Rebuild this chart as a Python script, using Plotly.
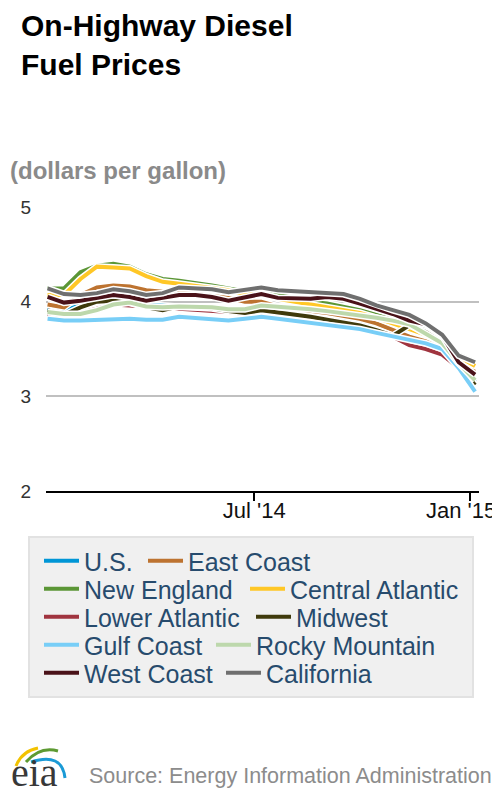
import plotly.graph_objects as go

# ------------------------------------------------------------------
# Data: weekly retail on-highway diesel, read off the chart (sampled every 2 weeks)
# ------------------------------------------------------------------
dates = [
    "2014-01-06", "2014-01-20", "2014-02-03", "2014-02-17", "2014-03-03",
    "2014-03-17", "2014-03-31", "2014-04-14", "2014-04-28", "2014-05-12",
    "2014-05-26", "2014-06-09", "2014-06-23", "2014-07-07", "2014-07-21",
    "2014-08-04", "2014-08-18", "2014-09-01", "2014-09-15", "2014-09-29",
    "2014-10-13", "2014-10-27", "2014-11-10", "2014-11-24", "2014-12-08",
    "2014-12-22", "2015-01-05",
]

us = [3.93, 3.91, 3.96, 4.00, 4.01, 4.00, 3.97, 3.96, 3.94, 3.93, 3.92, 3.90, 3.87, 3.91,
      3.88, 3.86, 3.84, 3.82, 3.80, 3.78, 3.76, 3.73, 3.70, 3.66, 3.60, 3.40, 3.15]
east_coast = [3.97, 3.94, 4.07, 4.15, 4.17, 4.16, 4.12, 4.10, 4.09, 4.08, 4.06, 4.04, 4.00, 4.00,
              3.95, 3.92, 3.90, 3.88, 3.85, 3.82, 3.77, 3.70, 3.63, 3.58, 3.50, 3.35, 3.26]
new_england = [4.14, 4.14, 4.31, 4.38, 4.40, 4.37, 4.29, 4.24, 4.22, 4.20, 4.17, 4.14, 4.11, 4.12,
               4.07, 4.04, 4.00, 3.98, 3.95, 3.91, 3.86, 3.81, 3.76, 3.70, 3.60, 3.44, 3.37]
central_atlantic = [4.07, 4.07, 4.24, 4.37, 4.36, 4.35, 4.27, 4.21, 4.19, 4.17, 4.15, 4.12, 4.08, 4.09,
                    4.03, 4.00, 3.97, 3.95, 3.92, 3.88, 3.83, 3.77, 3.71, 3.65, 3.59, 3.42, 3.32]
lower_atlantic = [3.87, 3.84, 3.88, 3.93, 3.97, 3.96, 3.95, 3.93, 3.93, 3.92, 3.91, 3.89, 3.87, 3.90,
                  3.88, 3.86, 3.83, 3.80, 3.77, 3.73, 3.68, 3.63, 3.54, 3.50, 3.44, 3.30, 3.13]
midwest = [3.91, 3.86, 3.94, 4.00, 4.01, 3.99, 3.94, 3.91, 3.95, 3.94, 3.93, 3.90, 3.88, 3.91,
           3.89, 3.87, 3.84, 3.81, 3.78, 3.75, 3.70, 3.64, 3.75, 3.68, 3.57, 3.32, 3.12]
gulf_coast = [3.82, 3.80, 3.80, 3.81, 3.82, 3.82, 3.81, 3.81, 3.84, 3.83, 3.82, 3.80, 3.82, 3.84,
              3.82, 3.80, 3.78, 3.76, 3.74, 3.71, 3.67, 3.63, 3.59, 3.56, 3.50, 3.30, 3.05]
rocky_mountain = [3.89, 3.87, 3.87, 3.91, 3.97, 3.99, 3.95, 3.94, 3.95, 3.95, 3.94, 3.92, 3.92, 3.96,
                  3.95, 3.94, 3.92, 3.90, 3.88, 3.86, 3.83, 3.80, 3.76, 3.66, 3.56, 3.35, 3.17]
west_coast = [4.05, 3.99, 4.01, 4.04, 4.07, 4.05, 4.01, 4.04, 4.07, 4.07, 4.05, 4.01, 4.05, 4.08,
              4.04, 4.03, 4.03, 4.05, 4.03, 3.98, 3.93, 3.87, 3.80, 3.76, 3.64, 3.36, 3.23]
california = [4.14, 4.08, 4.07, 4.09, 4.13, 4.11, 4.07, 4.09, 4.15, 4.14, 4.13, 4.10, 4.12, 4.15,
              4.12, 4.11, 4.10, 4.10, 4.08, 4.03, 3.96, 3.91, 3.86, 3.77, 3.65, 3.43, 3.36]

y_ticks = [2, 3, 4, 5]
x_tickvals = ["2014-07-01", "2015-01-01"]
x_ticktext = ["Jul '14", "Jan '15"]

# (name, values, colour, legend row)
series = [
    ("U.S.", us, "#0096d6", "legend"),
    ("East Coast", east_coast, "#bd7330", "legend"),
    ("New England", new_england, "#5b9636", "legend2"),
    ("Central Atlantic", central_atlantic, "#ffc726", "legend2"),
    ("Lower Atlantic", lower_atlantic, "#a0343f", "legend3"),
    ("Midwest", midwest, "#3f3a0c", "legend3"),
    ("Gulf Coast", gulf_coast, "#78cef7", "legend4"),
    ("Rocky Mountain", rocky_mountain, "#bdd8ac", "legend4"),
    ("West Coast", west_coast, "#4a1219", "legend5"),
    ("California", california, "#6f6f6f", "legend5"),
]

# ------------------------------------------------------------------
# Page geometry. The page body has an 8px margin, so the figure is
# laid out in page pixels and shifted back by that offset.
# ------------------------------------------------------------------
OFF = 8
W, H = 500, 800
L, T = 46 - OFF, 207 - OFF                  # plot area top-left on the page: (46, 207)
R, B = W - (479 - OFF), H - (491 - OFF)     # plot area bottom-right: (479, 491)
PW, PH = W - L - R, H - T - B
FONT = "Liberation Sans, Arial, sans-serif"


def px(x, y):
    """page pixel position -> paper coords"""
    return (x - OFF - L) / PW, (H - B - (y - OFF)) / PH


# legend layout: rows, left edge, and where the 2nd entry of each row starts
LEG_LEFT = 39
SWATCH = 35
TEXT_GAP = SWATCH + 10
row_y = [561, 589, 617, 645, 673]
col2_swatch = [148, 250, 256, 216, 226]
first_width = {leg: (c - 5) - LEG_LEFT - 5 - TEXT_GAP
               for leg, c in zip(["legend", "legend2", "legend3", "legend4", "legend5"], col2_swatch)}

fig = go.Figure()

seen = set()
for name, vals, color, leg in series:
    # white halo under every line, like the original
    fig.add_trace(go.Scatter(x=dates, y=vals, mode="lines", showlegend=False,
                             hoverinfo="skip", line=dict(color="white", width=7)))
    extra = {}
    if leg not in seen:
        extra["legendwidth"] = first_width[leg]
        seen.add(leg)
    fig.add_trace(go.Scatter(x=dates, y=vals, mode="lines", name=name, legend=leg,
                             line=dict(color=color, width=4), **extra))

legends = {}
for i, yy in enumerate(row_y):
    key = "legend" if i == 0 else f"legend{i + 1}"
    lx, ly = px(LEG_LEFT, yy)
    legends[key] = dict(orientation="h", x=lx, y=ly, xanchor="left", yanchor="middle",
                        bgcolor="rgba(0,0,0,0)", borderwidth=0, itemwidth=SWATCH,
                        font=dict(family=FONT, size=25, color="#274b6d"),
                        itemclick=False, itemdoubleclick=False)

bx0, by0 = px(29, 697)
bx1, by1 = px(473, 537)
shapes = [dict(type="rect", xref="paper", yref="paper", x0=bx0, y0=by0, x1=bx1, y1=by1,
               fillcolor="#f0f0f0", line=dict(color="#e2e2e2", width=2), layer="below")]


# eia logo swooshes
def arc(p0, c, p1, color, width):
    a, b, d = px(*p0), px(*c), px(*p1)
    path = f"M {a[0]},{a[1]} Q {b[0]},{b[1]} {d[0]},{d[1]}"
    return dict(type="path", xref="paper", yref="paper", path=path,
                line=dict(color=color, width=width))


shapes += [
    arc((16, 766), (22, 751), (38, 748), "#f2c200", 3),
    arc((26, 762), (40, 746), (58, 751), "#5d9a32", 3),
    arc((31, 762), (62, 752), (65, 778), "#1a9ad6", 3),
]

annotations = []
sx, sy = px(8, 170)
annotations.append(dict(text="<b>(dollars per gallon)</b>", xref="paper", yref="paper",
                        x=sx, y=sy, xanchor="left", yanchor="middle", showarrow=False,
                        font=dict(family=FONT, size=24, color="#8a8a8a")))
sx, sy = px(87, 776)
annotations.append(dict(text="Source: Energy Information Administration", xref="paper",
                        yref="paper", x=sx, y=sy, xanchor="left", yanchor="middle",
                        showarrow=False, font=dict(family=FONT, size=21.5, color="#8c8c8c")))
sx, sy = px(34, 772)
annotations.append(dict(text="eia", xref="paper", yref="paper", x=sx, y=sy,
                        xanchor="center", yanchor="middle", showarrow=False,
                        font=dict(family="Liberation Serif, serif", size=40, color="#383838")))
# last tick label is pulled in so it stays inside the page, as in the original
sx, sy = px(498, 510)
annotations.append(dict(text=x_ticktext[1], xref="paper", yref="paper", x=sx, y=sy,
                        xanchor="right", yanchor="middle", showarrow=False,
                        font=dict(family=FONT, size=22, color="#111111")))

fig.update_layout(
    width=W, height=H,
    margin=dict(l=L, r=R, t=T, b=B, autoexpand=False),
    paper_bgcolor="white", plot_bgcolor="white",
    title=dict(text="<b>On-Highway Diesel<br>Fuel Prices</b>", xref="container", yref="container",
               x=(21 - OFF) / W, xanchor="left", y=1 - 28 / H, yanchor="top",
               font=dict(family=FONT, size=30, color="#000000")),
    shapes=shapes,
    annotations=annotations,
    hovermode=False,
    **legends,
)

fig.update_xaxes(
    type="date", range=["2014-01-04 16:00", "2015-01-08 08:00"],
    tickvals=x_tickvals, ticktext=[x_ticktext[0], ""],
    ticks="outside", ticklen=8, tickwidth=2, tickcolor="black",
    showline=True, linecolor="black", linewidth=2, showgrid=False, zeroline=False,
    ticklabelstandoff=-9,
    tickfont=dict(family=FONT, size=22, color="#111111"), fixedrange=True,
)
fig.update_yaxes(
    range=[2, 5], tickvals=y_ticks, showgrid=True, gridcolor="#c0c0c0", gridwidth=1.5,
    zeroline=False, showline=False, ticks="", ticklabelstandoff=14,
    tickfont=dict(family=FONT, size=19, color="#333333"), fixedrange=True,
)

fig.write_html("out.html")
